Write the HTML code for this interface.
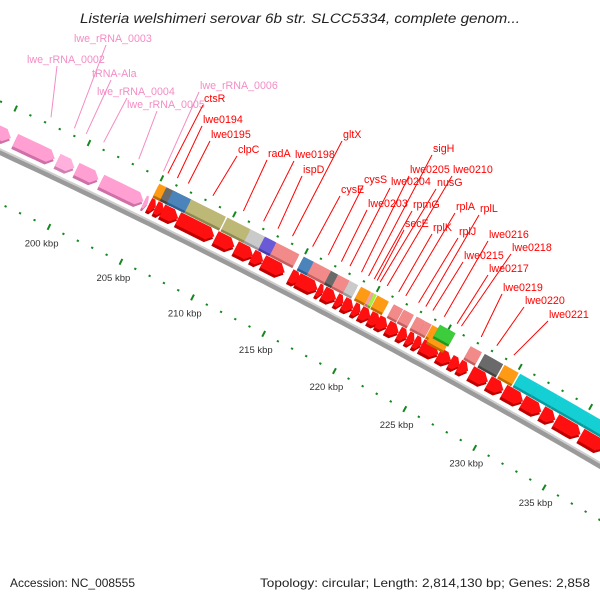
<!DOCTYPE html>
<html><head><meta charset="utf-8"><style>
html,body{margin:0;padding:0;background:#fff;}
svg{display:block;font-family:"Liberation Sans",sans-serif;}
</style></head><body>
<svg id="chart" width="600" height="600" viewBox="0 0 600 600" xmlns="http://www.w3.org/2000/svg">
<rect width="600" height="600" fill="#fff"/>
<text x="80" y="23" textLength="440" lengthAdjust="spacingAndGlyphs" font-style="italic" font-size="13.5" fill="#222">Listeria welshimeri serovar 6b str. SLCC5334, complete genom...</text>
<g id="backbone"></g>
<g id="ticks"></g>
<g id="lowrow"></g>
<g id="toprow"></g>
<g id="labels"></g>
<text x="10" y="587" textLength="125" lengthAdjust="spacingAndGlyphs" font-size="12" fill="#222">Accession: NC_008555</text>
<text x="260" y="587" textLength="330" lengthAdjust="spacingAndGlyphs" font-size="12" fill="#222">Topology: circular; Length: 2,814,130 bp; Genes: 2,858</text>
</svg>
<script>
// ---- data ----
const tickMajorKbp = [190,195,200,205,210,215,220,225,230,235,240,245];
const tickLabelKbp = [200,205,210,215,220,225,230,235];
const lowStart = [190,195.8,198.7,200.0,201.7,204.65, 205.0,205.45,205.9,207.0,209.6,211.0,212.15,212.9,214.8,215.3,216.7,217.1,218.0,218.5,219.2,219.7,220.35,220.9,221.6,222.4,223.0,223.5,224.0,225.2,226.05,226.65,227.5,228.75,229.85,231.2,232.55,233.55,235.35,237.1,238.9];
const lowEnd   = [195.5,198.5,199.85,201.5,204.6,204.9, 205.45,206.0,207.0,209.5,210.9,212.2,212.9,214.4,215.5,216.7,217.1,218.0,218.5,219.2,219.7,220.4,221.1,221.6,222.4,223.0,223.5,224.0,225.2,226.1,226.7,227.3,228.7,229.8,231.2,232.5,233.5,235.3,237.0,238.8,240.5];
const lowType  = ['rrna','rrna','trna','rrna','rrna','rrna','cds','cds','cds','cds','cds','cds','cds','cds','cds','cds','cds','cds','cds','cds','cds','cds','cds','cds','cds','cds','cds','cds','cds','cds','cds','cds','cds','cds','cds','cds','cds','cds','cds','cds','cds'];
const topStart = [205.0,205.5,205.95,207.2,209.7,211.3,212.3,213.1,215.0,215.7,216.9,217.4,218.2,219.0,219.72,219.9,220.15,221.3,222.0,222.9,223.5,224.0,224.2,224.4,226.7,227.7,229.1,230.2,231.5,232.9,235.2,238.0];
const topEnd   = [205.7,206.2,207.2,209.6,211.3,212.3,213.1,214.7,215.7,216.9,217.4,218.2,218.8,219.7,219.9,220.1,220.95,221.95,222.7,223.5,223.95,224.5,225.4,225.5,227.5,229.0,230.1,231.5,232.9,235.2,238.0,241.0];
const topCat   = ['orange','dgray','blue','olive','olive','lgray','purple','salmon','blue','salmon','dgray','salmon','lgray','orange','pinkish','lime','orange','salmon','salmon','salmon','salmon','orange','orange','green','salmon','dgray','orange','cyan','cyan','cyan','cyan','cyan'];
const topLevel = [0,0,0,0,0,0,0,0,0,0,0,0,0,0,0,0,0,0,0,0,0,0,1,-1,0,0,0,0,0,0,0,0];
const labelText = ['lwe_rRNA_0003','lwe_rRNA_0002','tRNA-Ala','lwe_rRNA_0004','lwe_rRNA_0005','lwe_rRNA_0006','ctsR','lwe0194','lwe0195','clpC','radA','lwe0198','ispD','gltX','cysE','cysS','lwe0203','lwe0204','lwe0205','sigH','rpmG','secE','nusG','lwe0210','rplK','rplA','rplJ','rplL','lwe0215','lwe0216','lwe0217','lwe0218','lwe0219','lwe0220','lwe0221'];
const labelKbp  = [198.8,197.2,199.6,200.8,203.2,204.9,205.2,205.85,206.6,208.3,210.4,211.8,212.8,213.8,215.2,216.3,217.2,217.8,218.6,219.1,219.5,219.7,219.9,220.4,221.2,221.7,222.6,223.1,223.6,224.4,225.3,225.6,227.0,228.1,229.3];
const labelX    = [74,27,92,97,127,200,204,203,211,238,268,295,303,343,341,364,368,391,410,433,413,405,437,453,433,456,459,480,464,489,489,512,503,525,549];
const labelY    = [42,63,77,95,108,89,102,123,138,153,157,158,173,138,193,183,207,185,173,152,208,227,186,173,231,210,235,212,259,238,272,251,291,304,318];
const labelDX   = [33,31,20,31,31,0,0,0,0,0,0,0,0,0,0,0,0,0,0,0,0,0,0,0,0,0,0,0,0,0,0,0,0,0,0];
const labelKind = ['rrna','rrna','rrna','rrna','rrna','rrna','cds','cds','cds','cds','cds','cds','cds','cds','cds','cds','cds','cds','cds','cds','cds','cds','cds','cds','cds','cds','cds','cds','cds','cds','cds','cds','cds','cds','cds'];

// ---- geometry ----
const NS='http://www.w3.org/2000/svg';
const TH0=25.5*Math.PI/180, PX=16.2, R=7211, P0=[89,143];
const C=[P0[0]-R*Math.sin(TH0), P0[1]+R*Math.cos(TH0)];
function pt(k,v){const th=TH0+(k-200)*PX/R;const r=R-v;return [C[0]+r*Math.sin(th), C[1]-r*Math.cos(th)];}
function P(a){return a[0].toFixed(1)+','+a[1].toFixed(1);}
function mk(tag,attrs,parent){const e=document.createElementNS(NS,tag);for(const k in attrs)e.setAttribute(k,attrs[k]);parent.appendChild(e);return e;}
const colors={orange:['#ff9a14','#c06a00'],dgray:['#6a6a6a','#444'],blue:['#4a84bb','#2c5f8e'],olive:['#bdb876','#8d8950'],lgray:['#cacaca','#999'],purple:['#6a5ad8','#4a3aa8'],salmon:['#f28a8a','#c06060'],pinkish:['#f4a0b0','#c07080'],lime:['#a8f040','#70b020'],green:['#3ccc3c','#1f9a1f'],cyan:['#14d0d4','#0a9a9e'],cds:['#ff1010','#c00000'],rrna:['#ff9fd2','#d070a8'],trna:['#ffb0dc','#d080b0']};

// backbone
const bb=document.getElementById('backbone');
let d1='',d2='';
for(let k=185;k<=245;k+=0.5){const a=pt(k,46),b=pt(k,43.5);d1+=(d1?'L':'M')+P(a);d2+=(d2?'L':'M')+P(b);}
let p1=mk('path',{d:d1,stroke:'#9a9a9a','stroke-width':6,fill:'none'},bb);


let p2=mk('path',{d:d2,stroke:'#cfcfcf','stroke-width':2,fill:'none'},bb);



// ticks
const tg=document.getElementById('ticks');
[0,93].forEach(function(v){
  for(let k=185;k<=245;k++){
    const major=tickMajorKbp.indexOf(k)>=0;
    const h=major?3.2:1;
    const l=mk('line',{},tg);
    const a=pt(k,v-h),b=pt(k,v+h);
    l.setAttribute('x1',a[0]);l.setAttribute('y1',a[1]);l.setAttribute('x2',b[0]);l.setAttribute('y2',b[1]);
    l.setAttribute('stroke','#14881e');l.setAttribute('stroke-width',major?2:2.2);
    
    
  }
});
tickLabelKbp.forEach(function(k){
  const a=pt(k,110);
  const t=mk('text',{x:a[0].toFixed(1),y:(a[1]+4).toFixed(1),'text-anchor':'middle','font-size':'9.5',fill:'#333'},tg);
  t.textContent=k+' kbp';
  
  
});

// shapes
function shape(s,e,v1,v2,arrow){
  const pts=[];const tip=arrow?Math.min(0.42,(e-s)*0.5):0;
  const n=Math.max(2,Math.ceil((e-s)*2));
  for(let i=0;i<=n;i++)pts.push(pt(s+(e-tip-s)*i/n,v1));
  if(arrow)pts.push(pt(e,(v1+v2)/2));
  for(let i=n;i>=0;i--)pts.push(pt(s+(e-tip-s)*i/n,v2));
  return pts.map(P).join(' ');
}
const lg=document.getElementById('lowrow');
for(let i=0;i<lowStart.length;i++){
  const c=colors[lowType[i]];
  const sh=mk('polygon',{points:shape(lowStart[i],lowEnd[i],24.5,38.5,true),fill:c[1]},lg);
  
  
  const f=mk('polygon',{points:shape(lowStart[i],lowEnd[i],22,35.5,true),fill:c[0]},lg);
  
  
}
const tgp=document.getElementById('toprow');
for(let i=0;i<topStart.length;i++){
  const c=colors[topCat[i]];const o=topLevel[i]*4;
  const sh=mk('polygon',{points:shape(topStart[i],topEnd[i],8.5+o,21.5+o,false),fill:c[1]},tgp);
  
  
  const f=mk('polygon',{points:shape(topStart[i],topEnd[i],6+o,19+o,false),fill:c[0]},tgp);
  
  
}

// labels
const lb=document.getElementById('labels');
for(let i=0;i<labelText.length;i++){
  const col=labelKind[i]==='rrna'?'#f48cc4':'#ff0000';
  const e=pt(labelKbp[i],-7);
  const l=mk('line',{x1:labelX[i]+labelDX[i]-1,y1:labelY[i]+3,x2:e[0].toFixed(1),y2:e[1].toFixed(1),stroke:col,'stroke-width':1},lb);
  
  
  const t=mk('text',{x:labelX[i],y:labelY[i],'font-size':'10.7',fill:col},lb);
  t.textContent=labelText[i];
  
  
}
</script>
</body></html>
